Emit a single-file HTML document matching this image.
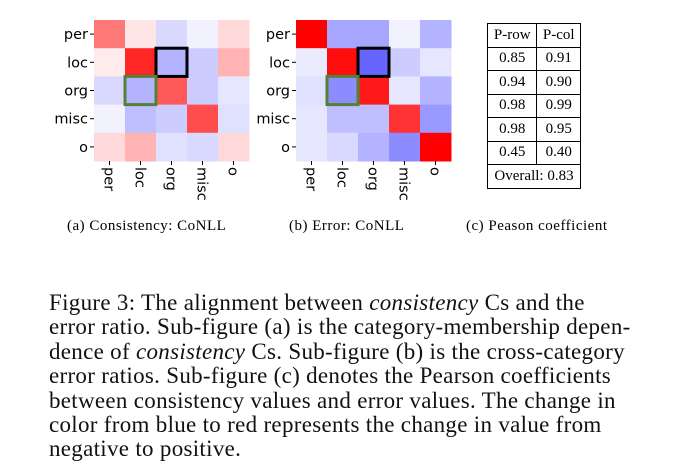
<!DOCTYPE html>
<html><head><meta charset="utf-8"><style>
body{margin:0;background:#fff;width:696px;height:474px;overflow:hidden;position:relative;font-family:"Liberation Serif",serif}
.cap{position:absolute;font-size:15px;letter-spacing:0.5px;top:218px;white-space:nowrap}
.fig{position:absolute;left:49px;top:291px;font-size:23px;letter-spacing:0.3px;line-height:24.4px;color:#111;white-space:nowrap}
table{position:absolute;left:487px;top:23px;border-collapse:collapse;font-size:15px;font-family:"Liberation Serif",serif;width:94px}
td{border:1.5px solid #000;text-align:center;height:22.5px;padding:0 2px}
</style></head><body>
<svg id="hm" width="696" height="215" style="position:absolute;left:0;top:0"></svg>
<table>
<tr><td>P-row</td><td>P-col</td></tr>
<tr><td>0.85</td><td>0.91</td></tr>
<tr><td>0.94</td><td>0.90</td></tr>
<tr><td>0.98</td><td>0.99</td></tr>
<tr><td>0.98</td><td>0.95</td></tr>
<tr><td>0.45</td><td>0.40</td></tr>
<tr><td colspan="2">Overall: 0.83</td></tr>
</table>
<div class="cap" style="left:67px">(a) Consistency: CoNLL</div>
<div class="cap" style="left:289px">(b) Error: CoNLL</div>
<div class="cap" style="left:466px">(c) Peason coefficient</div>
<div class="fig">Figure 3: The alignment between <i>consistency</i> Cs and the<br>error ratio. Sub-figure (a) is the category-membership depen-<br>dence of <i>consistency</i> Cs. Sub-figure (b) is the cross-category<br>error ratios. Sub-figure (c) denotes the Pearson coefficients<br>between consistency values and error values. The change in<br>color from blue to red represents the change in value from<br>negative to positive.</div>
<script>
const categories=["per","loc","org","misc","o"];
const consistencyValues=[
[0.53,0.1,-0.15,-0.05,0.15],
[0.08,0.85,-0.3,-0.2,0.3],
[-0.15,-0.3,0.65,-0.2,-0.1],
[-0.05,-0.25,-0.2,0.7,-0.12],
[0.15,0.3,-0.12,-0.15,0.15]];
const errorValues=[
[1.0,-0.35,-0.35,-0.05,-0.3],
[-0.08,0.95,-0.6,-0.2,-0.1],
[-0.12,-0.45,0.9,-0.1,-0.3],
[-0.1,-0.25,-0.25,0.8,-0.4],
[-0.1,-0.15,-0.3,-0.45,1.0]];
const NS="http://www.w3.org/2000/svg";
const svg=document.getElementById("hm");
function color(v){v=Math.max(-1,Math.min(1,v));
 if(v>=0){const g=Math.round(255*(1-v));return `rgb(255,${g},${g})`;}
 const g=Math.round(255*(1+v));return `rgb(${g},${g},255)`;}
function mk(t,a){const e=document.createElementNS(NS,t);for(const k in a)e.setAttribute(k,a[k]);svg.appendChild(e);return e;}
function draw(vals,x0,name){
 const W=155,H=141,y0=20,cw=W/5,ch=H/5;
 const xs=i=>x0+i*cw, ys=i=>y0+i*ch;
 vals.forEach((row,r)=>row.forEach((v,c)=>{
  const e=mk("rect",{x:xs(c),y:ys(r),width:cw+0.5,height:ch+0.5,fill:color(v)});
  
  
 }));
 categories.forEach((k,i)=>{
  mk("line",{x1:x0-4,x2:x0,y1:ys(i)+ch/2,y2:ys(i)+ch/2,stroke:"#000"});
  const t=mk("text",{x:x0-6,y:ys(i)+ch/2+5,"text-anchor":"end","font-size":"14.5","font-family":"DejaVu Sans, sans-serif"});
  t.textContent=k;
  
  
  const cx=xs(i)+cw/2;
  mk("line",{x1:cx,x2:cx,y1:y0+H,y2:y0+H+4,stroke:"#000"});
  const u=mk("text",{x:0,y:0,"font-size":"14.5","font-family":"DejaVu Sans, sans-serif",transform:`translate(${cx-5},${y0+H+6}) rotate(90)`});
  u.textContent=k;
  
  
 });
 const b=mk("rect",{x:xs(2),y:ys(1),width:cw,height:ch,fill:"none",stroke:"#000","stroke-width":3});
 
 
 const g=mk("rect",{x:xs(1),y:ys(2),width:cw,height:ch,fill:"none",stroke:"#548235","stroke-width":3});
 
 
}
draw(consistencyValues,94,"consistency");
draw(errorValues,296,"error");
</script>
</body></html>
